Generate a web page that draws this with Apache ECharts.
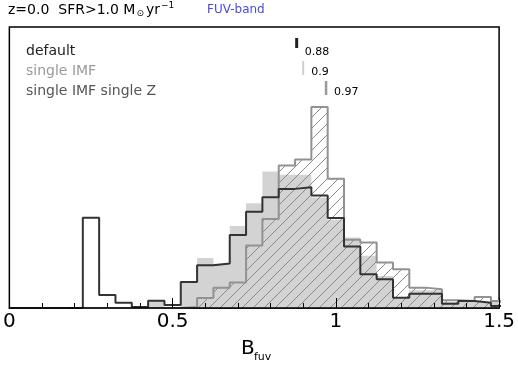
<!DOCTYPE html>
<html><head><meta charset="utf-8">
<script src="https://cdn.jsdelivr.net/npm/echarts@6/dist/echarts.min.js"></script>
<style>html,body{margin:0;padding:0;background:#fff}#c{width:518px;height:367px}</style>
</head><body><div id="c"></div>
<script>
// Bin centres of the histograms (bin width 0.05)
const binCenters = [0.20,0.25,0.30,0.35,0.40,0.45,0.50,0.55,0.60,0.65,0.70,0.75,0.80,0.85,0.90,0.95,1.00,1.05,1.10,1.15,1.20,1.25,1.30,1.35,1.40,1.45,1.50];
const binWidth = 0.05;
// default (black outline)
const defaultVals = [0,90,13,5.3,1,7.3,3,26,42.7,44.3,72.7,96,110.3,118.7,120.3,112,89.7,61.3,33.7,28.7,10.3,14.3,14.3,4.3,7,5.3,2];
// single IMF (light gray filled)
const singleIMFVals = [1,0,0,0,0,7,1,26,49.7,44,81.7,104.3,136,132.7,132.7,110,88,70.3,52,32,10,17.7,17.7,6,7,6,6];
// single IMF single Z (hatched)
const singleZVals = [0,0,0,0,0,0,0,1,10,20.3,25.3,62.3,88.7,142,148,200.3,128.7,68,65.3,45.3,38.7,20.3,18.7,7.7,7,11,7];
// medians
const medians = [0.88, 0.90, 0.97];
const medianLabels = ['0.88', '0.9', '0.97'];
const seriesNames = ['default', 'single IMF', 'single IMF single Z'];
const xTicks = [0, 0.5, 1, 1.5];

function stepData(vals){
  const pts = [[binCenters[0]-binWidth/2, 0]];
  vals.forEach((v,i)=>pts.push([binCenters[i]-binWidth/2, v]));
  pts.push([binCenters[binCenters.length-1]+binWidth/2, 0]);
  return pts;
}

const pc = document.createElement('canvas');
pc.width = 11; pc.height = 11;
const g = pc.getContext('2d');
g.strokeStyle = '#8a8a8a'; g.lineWidth = 1;
g.beginPath();
g.moveTo(0,11); g.lineTo(11,0);
g.moveTo(-2,2); g.lineTo(2,-2);
g.moveTo(9,13); g.lineTo(13,9);
g.stroke();

const FONT = 'DejaVu Sans';
function measure(text, size){ g.font = size + 'px "' + FONT + '"'; return g.measureText(text).width; }

const chart = echarts.init(document.getElementById('c'), null, {renderer:'canvas'});
const medTop = [38, 61, 81];
const medLen = [10, 14, 14];
const medTextY = [52, 72, 92];
const medColor = ['#222', '#cfcfcf', '#999'];
const medWidth = [3, 2, 2.5];
const legColor = ['#222', '#9a9a9a', '#555'];

function T(x, y, text, size, fill){
  return {type:'text', x: x, y: y, style:{text: text, fontSize: size, fontFamily: FONT, fill: fill || '#000', verticalAlign:'middle', textVerticalAlign:'middle'}};
}
const t1 = 'z=0.0  SFR>1.0 M';
const x1 = 8 + measure(t1, 14) + 1;
const x2 = x1 + measure('⊙', 9) + 2;
const x3 = x2 + measure('yr', 14) + 1;

chart.setOption({
  animation: false,
  grid: {left: 7, right: 15, top: 27, bottom: 59, show: true, borderColor: '#000', borderWidth: 1.5, backgroundColor: 'rgba(0,0,0,0)'},
  xAxis: {
    type: 'value', min: 0, max: 1.5, interval: 0.5, z: 10,
    axisLine: {show: true, onZero: false, lineStyle: {color: '#000', width: 1.5}},
    axisTick: {show: true, inside: true, length: 10, lineStyle: {color: '#000', width: 1}},
    minorTick: {show: true, splitNumber: 5, length: 5, lineStyle: {color: '#000', width: 1}},
    splitLine: {show: false},
    axisLabel: {color: '#000', fontSize: 20, fontFamily: FONT, margin: 4,
      formatter: v => { const i = xTicks.indexOf(Math.round(v*10)/10); return i >= 0 ? String(xTicks[i]) : ''; }}
  },
  yAxis: {type: 'value', min: 0, max: 280, show: false},
  graphic: [
    T(8, 10, t1, 14),
    T(x1, 14, '⊙', 9),
    T(x2, 10, 'yr', 14),
    T(x3, 6, '−1', 9),
    T(207, 10, 'FUV-band', 12, '#4a4ae0'),
    T(26, 51, seriesNames[0], 14, legColor[0]),
    T(26, 71, seriesNames[1], 14, legColor[1]),
    T(26, 91, seriesNames[2], 14, legColor[2]),
    T(241, 349, 'B', 20),
    T(254, 357, 'fuv', 11)
  ],
  series: [
    {name: seriesNames[1], type:'line', step:'end', symbol:'none', z: 1,
     data: stepData(singleIMFVals), lineStyle:{width:0, color:'#d3d3d3'}, areaStyle:{color:'#d3d3d3', opacity:1}},
    {name: seriesNames[2], type:'line', step:'end', symbol:'none', z: 2,
     data: stepData(singleZVals), lineStyle:{width:2, color:'#929292'}, areaStyle:{color:{image: pc, repeat:'repeat'}, opacity:1}},
    {name: seriesNames[0], type:'line', step:'end', symbol:'none', z: 3,
     data: stepData(defaultVals), lineStyle:{width:2, color:'#333'}},
    {type:'custom', coordinateSystem:'cartesian2d', clip:false, z: 4,
     data: medians.map((m,i)=>[m, i]),
     renderItem: (params, api) => {
       const i = api.value(1);
       const x = api.coord([api.value(0), 0])[0];
       return {type:'group', children:[
         {type:'line', shape:{x1:x, y1:medTop[i], x2:x, y2:medTop[i]+medLen[i]}, style:{stroke: medColor[i], lineWidth: medWidth[i]}},
         {type:'text', x: x+8, y: medTextY[i], style:{text: medianLabels[i], fontSize: 11, fontFamily: FONT, fill:'#000', verticalAlign:'middle', textVerticalAlign:'middle'}}
       ]};
     }}
  ]
});
</script></body></html>
